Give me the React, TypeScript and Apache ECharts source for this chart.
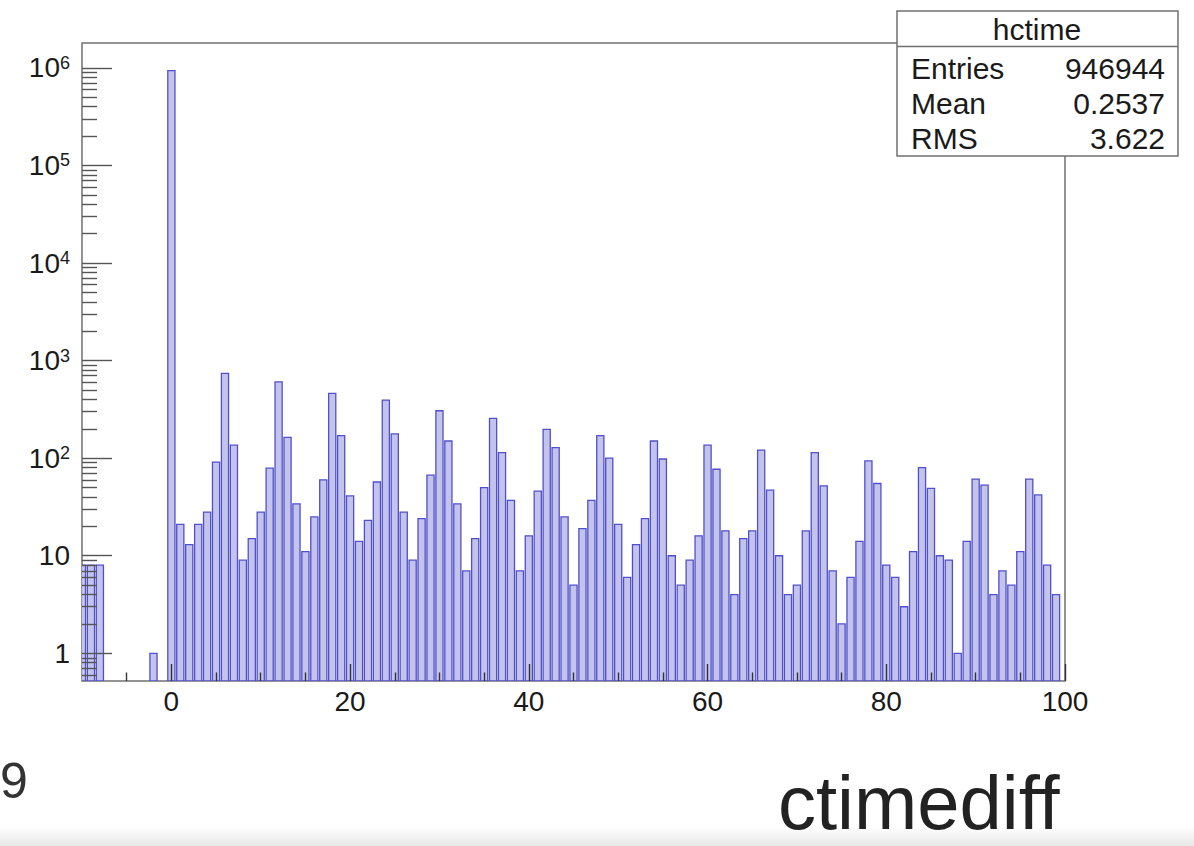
import React, { useEffect, useRef } from 'react';
import * as echarts from 'echarts';

// ---------- data ----------
const binCenters = [
  -10, -9, -8, -2,
  0, 1, 2, 3, 4, 5, 6, 7, 8, 9, 10, 11, 12, 13, 14, 15, 16, 17, 18, 19,
  20, 21, 22, 23, 24, 25, 26, 27, 28, 29, 30, 31, 32, 33, 34, 35, 36, 37, 38, 39,
  40, 41, 42, 43, 44, 45, 46, 47, 48, 49, 50, 51, 52, 53, 54, 55, 56, 57, 58, 59,
  60, 61, 62, 63, 64, 65, 66, 67, 68, 69, 70, 71, 72, 73, 74, 75, 76, 77, 78, 79,
  80, 81, 82, 83, 84, 85, 86, 87, 88, 89, 90, 91, 92, 93, 94, 95, 96, 97, 98, 99,
];
const binCounts = [
  8, 8, 8, 1,
  940000, 21, 13, 21, 28, 91,
  740, 136, 9, 15, 28, 79,
  606, 163, 34, 11, 25, 60,
  461, 170, 41, 14, 23, 57,
  394, 177, 28, 9, 24, 67,
  306, 150, 34, 7, 15, 50,
  256, 114, 37, 7, 16, 46,
  197, 128, 25, 5, 19, 37,
  170, 100, 21, 6, 13, 24,
  150, 98, 10, 5, 9, 16,
  136, 77, 18, 4, 15, 18,
  121, 47, 10, 4, 5, 18,
  114, 52, 7, 2, 6, 14,
  94, 55, 8, 6, 3, 11,
  80, 49, 10, 9, 1, 14,
  61, 53, 4, 7, 5, 11,
  61, 42, 8, 4,
];

const xMajorTicks = [0, 20, 40, 60, 80, 100];
const yMajorTicks = [1, 10, 100, 1000, 10000, 100000, 1000000];

const statsTitle = 'hctime';
const statsLabels = ['Entries', 'Mean', 'RMS'];
const statsValues = ['946944', '0.2537', '3.622'];

const slideNumber = '9';
const slideTitle = 'ctimediff';

// ---------- axis settings ----------
const X_MIN = -10;
const X_MAX = 100;
const Y_MIN = 0.52;
const Y_MAX = 1.8e6;

const xMinorTicks: number[] = [];
for (let v = -5; v < X_MAX; v += 5) {
  if (v % 20 !== 0) xMinorTicks.push(v);
}
const yMinorTicks: number[] = [];
for (let e = -1; e <= 6; e++) {
  for (let k = 2; k <= 9; k++) {
    const v = Number((k * Math.pow(10, e)).toPrecision(6));
    if (v >= Y_MIN && v <= Y_MAX) yMinorTicks.push(v);
  }
}

const FONT = '"Liberation Sans", Arial, Helvetica, sans-serif';
const FILL = '#c3c3ec';
const STROKE = '#5050cc';
const BAR_HALF = 0.4;

export default function App() {
  const ref = useRef<HTMLDivElement>(null);

  useEffect(() => {
    if (!ref.current) return;
    const chart = echarts.init(ref.current, null, { renderer: 'svg' });

    const yTickStyle = { color: '#555', width: 1.4 };
    const xTickStyle = { color: '#333', width: 1.4 };

    const option: any = {
      animation: false,
      backgroundColor: '#ffffff',
      grid: {
        left: 82,
        top: 43,
        width: 983,
        height: 638,
        show: true,
        borderColor: '#707070',
        borderWidth: 1.5,
        backgroundColor: 'transparent',
      },
      xAxis: [
        {
          type: 'value',
          position: 'bottom',
          min: X_MIN,
          max: X_MAX,
          z: 5,
          axisLine: { show: false, onZero: false },
          splitLine: { show: false },
          axisTick: { show: true, inside: true, length: 17, customValues: xMajorTicks, lineStyle: xTickStyle },
          axisLabel: {
            customValues: xMajorTicks,
            margin: 6,
            fontSize: 28,
            fontFamily: FONT,
            color: '#1a1a1a',
          },
        },
        {
          type: 'value',
          position: 'bottom',
          min: X_MIN,
          max: X_MAX,
          z: 5,
          axisLine: { show: false, onZero: false },
          splitLine: { show: false },
          axisTick: { show: true, inside: true, length: 8.5, customValues: xMinorTicks, lineStyle: xTickStyle },
          axisLabel: { show: false },
        },
      ],
      yAxis: [
        {
          type: 'log',
          logBase: 10,
          position: 'left',
          min: Y_MIN,
          max: Y_MAX,
          z: 5,
          axisLine: { show: false, onZero: false },
          splitLine: { show: false },
          axisTick: { show: true, inside: true, length: 30, customValues: yMajorTicks, lineStyle: yTickStyle },
          axisLabel: {
            customValues: yMajorTicks,
            margin: 12,
            color: '#1a1a1a',
            formatter: (v: number) => {
              const e = Math.round(Math.log10(v));
              if (e === 0) return '{b|1}';
              if (e === 1) return '{b|10}';
              return '{b|10}{s|' + e + '}';
            },
            rich: {
              b: { fontSize: 28, fontFamily: FONT, color: '#1a1a1a' },
              s: { fontSize: 18, fontFamily: FONT, color: '#1a1a1a', verticalAlign: 'top', padding: [0, 0, 10, 0] },
            },
          },
        },
        {
          type: 'log',
          logBase: 10,
          position: 'left',
          min: Y_MIN,
          max: Y_MAX,
          z: 5,
          axisLine: { show: false, onZero: false },
          splitLine: { show: false },
          axisTick: { show: true, inside: true, length: 15, customValues: yMinorTicks, lineStyle: yTickStyle },
          axisLabel: { show: false },
        },
      ],
      series: [
        {
          type: 'custom',
          xAxisIndex: 0,
          yAxisIndex: 0,
          clip: true,
          z: 2,
          data: binCenters.map((c, i) => [c, binCounts[i]]),
          renderItem: (_params: any, api: any) => {
            const c = api.value(0) as number;
            const v = api.value(1) as number;
            const tl = api.coord([c - BAR_HALF, v]);
            const br = api.coord([c + BAR_HALF, Y_MIN]);
            return {
              type: 'rect',
              shape: { x: tl[0], y: tl[1], width: br[0] - tl[0], height: br[1] - tl[1] },
              style: { fill: FILL, stroke: STROKE, lineWidth: 1.3 },
            };
          },
        },
      ],
      graphic: [
        {
          type: 'rect',
          z: 100,
          shape: { x: 897, y: 11, width: 281, height: 145 },
          style: { fill: '#ffffff', stroke: '#707070', lineWidth: 1.5 },
        },
        {
          type: 'line',
          z: 101,
          shape: { x1: 897, y1: 46.5, x2: 1178, y2: 46.5 },
          style: { stroke: '#707070', lineWidth: 1.5 },
        },
        {
          type: 'text',
          z: 102,
          style: { text: statsTitle, x: 1037, y: 29.5, align: 'center', verticalAlign: 'middle', fontSize: 30, fontFamily: FONT, fill: '#1a1a1a' },
        },
        ...statsLabels.map((t, i) => ({
          type: 'text',
          z: 102,
          style: { text: t, x: 911, y: 68 + i * 35, align: 'left', verticalAlign: 'middle', fontSize: 30, fontFamily: FONT, fill: '#1a1a1a' },
        })),
        ...statsValues.map((t, i) => ({
          type: 'text',
          z: 102,
          style: { text: t, x: 1165, y: 68 + i * 35, align: 'right', verticalAlign: 'middle', fontSize: 30, fontFamily: FONT, fill: '#1a1a1a' },
        })),
        {
          type: 'rect',
          z: 50,
          shape: { x: 0, y: 826, width: 1194, height: 20 },
          style: {
            fill: new echarts.graphic.LinearGradient(0, 0, 0, 1, [
              { offset: 0, color: 'rgba(0,0,0,0)' },
              { offset: 1, color: 'rgba(0,0,0,0.09)' },
            ]),
          },
        },
        {
          type: 'text',
          z: 102,
          style: { text: slideNumber, x: 0, y: 781, align: 'left', verticalAlign: 'middle', fontSize: 50, fontFamily: FONT, fill: '#333333' },
        },
        {
          type: 'text',
          z: 102,
          style: { text: slideTitle, x: 778, y: 836, align: 'left', verticalAlign: 'bottom', fontSize: 76, lineHeight: 68, fontFamily: FONT, fill: '#222222' },
        },
      ],
    };

    chart.setOption(option);
    return () => chart.dispose();
  }, []);

  return (
    <div
      ref={ref}
      style={{ position: 'fixed', left: 0, top: 0, width: 1194, height: 846, background: '#fff' }}
    />
  );
}
